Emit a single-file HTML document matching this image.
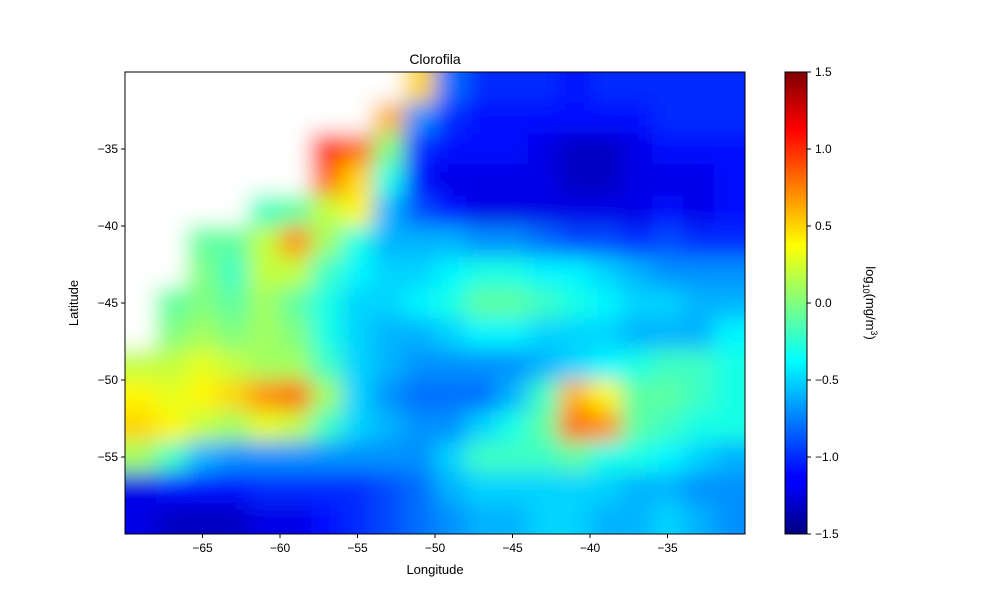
<!DOCTYPE html>
<html><head><meta charset="utf-8">
<style>
body{margin:0;background:#fff;}
svg{display:block;font-family:"Liberation Sans","DejaVu Sans",sans-serif;}
</style></head>
<body>
<svg id="chart" width="1000" height="600" viewBox="0 0 1000 600">
<defs>
<clipPath id="plotclip"><rect x="125" y="72" width="620" height="462"/></clipPath>
<filter id="smooth" x="-10%" y="-10%" width="120%" height="120%"><feGaussianBlur stdDeviation="11"/></filter>
<linearGradient id="jetgrad" x1="0" y1="1" x2="0" y2="0">
<stop offset="0" stop-color="#00007f"/><stop offset="0.11" stop-color="#0000ff"/>
<stop offset="0.125" stop-color="#0000ff"/><stop offset="0.375" stop-color="#00ffff"/>
<stop offset="0.625" stop-color="#ffff00"/><stop offset="0.875" stop-color="#ff0000"/>
<stop offset="1" stop-color="#7f0000"/></linearGradient>
</defs>
<text x="435" y="64" text-anchor="middle" font-size="14">Clorofila</text>
<g clip-path="url(#plotclip)"><g id="cells" filter="url(#smooth)"></g></g>
<rect x="125" y="72" width="620" height="462" fill="none" stroke="#000" stroke-width="1"/>
<g id="xticks"></g>
<g id="yticks"></g>
<text x="435" y="574" text-anchor="middle" font-size="13">Longitude</text>
<text transform="translate(78,303) rotate(-90)" text-anchor="middle" font-size="13">Latitude</text>
<rect x="785" y="72" width="22" height="462" fill="url(#jetgrad)" stroke="#000" stroke-width="1"/>
<g id="cticks"></g>
<text transform="translate(866,303) rotate(90)" text-anchor="middle" font-size="13">log<tspan font-size="9" dy="3">10</tspan><tspan dy="-3">(mg/m</tspan><tspan font-size="9" dy="-5">3</tspan><tspan dy="5">)</tspan></text>
</svg>
<script>
const lonEdges = [-70,-68,-66,-64,-62,-60,-58,-56,-54,-52,-50,-48,-46,-44,-42,-40,-38,-36,-34,-32,-30];
const latEdges = [-30,-32,-34,-36,-38,-40,-42,-44,-46,-48,-50,-52,-54,-56,-58,-60];
const xTickVals = [-65,-60,-55,-50,-45,-40,-35];
const yTickVals = [-35,-40,-45,-50,-55];
const cTickVals = [-1.5,-1.0,-0.5,0.0,0.5,1.0,1.5];
const N = null;
const row0  = [N,N,N,N,N,N,N,N,N,0.5,-0.8,-1.0,-1.0,-1.0,-1.1,-1.0,-1.0,-1.0,-1.0,-1.0];
const row1  = [N,N,N,N,N,N,N,N,0.6,-0.7,-1.0,-1.1,-1.1,-1.1,-1.1,-1.1,-1.1,-1.0,-1.0,-1.0];
const row2  = [N,N,N,N,N,N,1.0,0.8,0.0,-1.0,-1.1,-1.1,-1.1,-1.2,-1.3,-1.3,-1.2,-1.1,-1.1,-1.1];
const row3  = [N,N,N,N,N,N,0.8,0.5,-0.3,-1.1,-1.2,-1.2,-1.2,-1.2,-1.3,-1.3,-1.2,-1.2,-1.2,-1.1];
const row4  = [N,N,N,N,-0.2,-0.1,0.2,0.4,-0.6,-0.9,-1.1,-1.2,-1.2,-1.2,-1.2,-1.2,-1.2,-1.1,-1.2,-1.1];
const row5  = [N,N,-0.1,-0.1,0.2,0.7,0.1,-0.3,-0.6,-0.6,-0.6,-0.7,-0.7,-0.8,-0.9,-0.9,-1.0,-0.9,-1.0,-1.0];
const row6  = [N,N,0.0,-0.2,0.2,0.2,-0.2,-0.4,-0.5,-0.5,-0.4,-0.3,-0.3,-0.4,-0.4,-0.5,-0.6,-0.7,-0.7,-0.7];
const row7  = [N,-0.1,0.0,-0.1,0.1,-0.1,-0.3,-0.5,-0.5,-0.4,-0.3,-0.1,-0.1,-0.2,-0.3,-0.4,-0.5,-0.5,-0.6,-0.6];
const row8  = [N,0.0,0.1,0.0,0.1,0.0,-0.3,-0.5,-0.6,-0.6,-0.5,-0.4,-0.4,-0.5,-0.5,-0.5,-0.6,-0.6,-0.6,-0.4];
const row9  = [0.2,0.2,0.3,0.2,0.1,0.1,-0.2,-0.5,-0.6,-0.7,-0.7,-0.7,-0.7,-0.6,-0.5,-0.4,-0.3,-0.2,-0.2,-0.3];
const row10 = [0.4,0.3,0.4,0.5,0.7,0.8,0.1,-0.5,-0.7,-0.8,-0.8,-0.8,-0.6,-0.2,0.6,0.4,-0.1,-0.1,-0.2,-0.3];
const row11 = [0.5,0.4,0.2,0.1,0.3,0.2,-0.2,-0.5,-0.6,-0.7,-0.7,-0.5,-0.3,-0.1,0.8,0.7,-0.1,-0.2,-0.3,-0.3];
const row12 = [0.1,-0.2,-0.6,-0.7,-0.7,-0.7,-0.7,-0.7,-0.7,-0.7,-0.5,-0.2,-0.2,-0.2,-0.1,-0.3,-0.3,-0.4,-0.5,-0.6];
const row13 = [-1.2,-1.1,-1.1,-1.1,-1.0,-1.0,-1.0,-1.0,-0.9,-0.8,-0.6,-0.5,-0.5,-0.5,-0.5,-0.5,-0.6,-0.6,-0.7,-0.7];
const row14 = [-1.2,-1.3,-1.3,-1.3,-1.2,-1.2,-1.1,-1.0,-0.9,-0.8,-0.7,-0.6,-0.6,-0.5,-0.5,-0.6,-0.6,-0.5,-0.6,-0.7];
const grid = [row0,row1,row2,row3,row4,row5,row6,row7,row8,row9,row10,row11,row12,row13,row14];

const NS = "http://www.w3.org/2000/svg";
const X0=125, X1=745, Y0=72, Y1=534;
function xScale(lon){ return X0 + (lon+70)/40*(X1-X0); }
function yScale(lat){ return Y0 + (-30-lat)/30*(Y1-Y0); }
function cScale(v){ return Y1 - (v+1.5)/3*(Y1-Y0); }
function clip(v){ return Math.max(0,Math.min(1,v)); }
function jet(v){
  const t = clip((v+1.5)/3);
  const r = clip(1.5-Math.abs(4*t-3)), g = clip(1.5-Math.abs(4*t-2)), b = clip(1.5-Math.abs(4*t-1));
  return `rgb(${Math.round(r*255)},${Math.round(g*255)},${Math.round(b*255)})`;
}
const cells = document.getElementById('cells');
const nR = grid.length, nC = grid[0].length, PAD = 40;
grid.forEach((row,i)=>{
  row.forEach((v,j)=>{
    const r = document.createElementNS(NS,'rect');
    let x = xScale(lonEdges[j]), x2 = xScale(lonEdges[j+1]);
    let y = yScale(latEdges[i]), y2 = yScale(latEdges[i+1]);
    if (j===0) x -= PAD; if (j===nC-1) x2 += PAD;
    if (i===0) y -= PAD; if (i===nR-1) y2 += PAD;
    r.setAttribute('x', x); r.setAttribute('y', y);
    r.setAttribute('width', x2-x+0.5); r.setAttribute('height', y2-y+0.5);
    r.setAttribute('fill', v===null ? '#ffffff' : jet(v));
    
    
    cells.appendChild(r);
  });
});
function fmt(v){ return (v<0?'\u2212':'') + Math.abs(v); }
const xt = document.getElementById('xticks');
xTickVals.forEach(v=>{
  const x = xScale(v);
  const l = document.createElementNS(NS,'line');
  l.setAttribute('x1',x); l.setAttribute('x2',x); l.setAttribute('y1',Y1); l.setAttribute('y2',Y1+4);
  l.setAttribute('stroke','#000');
  
  
  xt.appendChild(l);
  const t = document.createElementNS(NS,'text');
  t.setAttribute('x',x); t.setAttribute('y',Y1+18); t.setAttribute('text-anchor','middle'); t.setAttribute('font-size','12');
  t.textContent = fmt(v);
  
  
  xt.appendChild(t);
});
const yt = document.getElementById('yticks');
yTickVals.forEach(v=>{
  const y = yScale(v);
  const l = document.createElementNS(NS,'line');
  l.setAttribute('x1',X0-4); l.setAttribute('x2',X0); l.setAttribute('y1',y); l.setAttribute('y2',y);
  l.setAttribute('stroke','#000');
  
  
  yt.appendChild(l);
  const t = document.createElementNS(NS,'text');
  t.setAttribute('x',X0-7); t.setAttribute('y',y+4); t.setAttribute('text-anchor','end'); t.setAttribute('font-size','12');
  t.textContent = fmt(v);
  
  
  yt.appendChild(t);
});
const ct = document.getElementById('cticks');
cTickVals.forEach(v=>{
  const y = cScale(v);
  const l = document.createElementNS(NS,'line');
  l.setAttribute('x1',807); l.setAttribute('x2',811); l.setAttribute('y1',y); l.setAttribute('y2',y);
  l.setAttribute('stroke','#000');
  
  
  ct.appendChild(l);
  const t = document.createElementNS(NS,'text');
  t.setAttribute('x',815); t.setAttribute('y',y+4); t.setAttribute('font-size','12');
  t.textContent = (v<0?'\u2212':'') + Math.abs(v).toFixed(1);
  
  
  ct.appendChild(t);
});
</script>
</body></html>
